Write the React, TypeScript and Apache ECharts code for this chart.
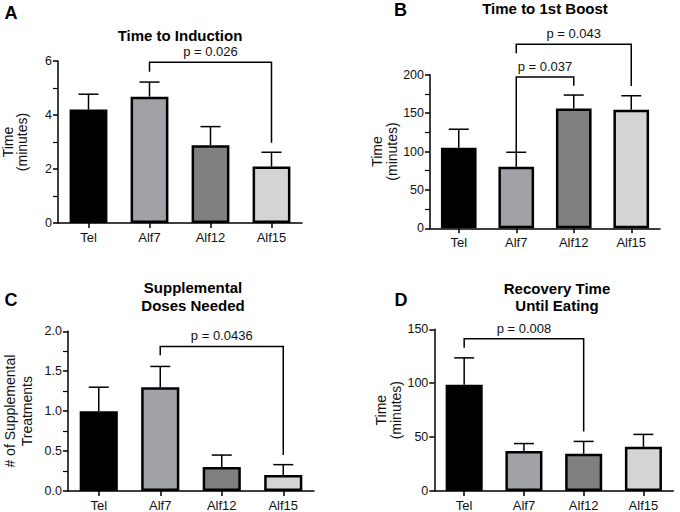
import React, { useEffect, useRef } from "react";
import * as echarts from "echarts";

const categories = ["Tel", "Alf7", "Alf12", "Alf15"];
const barColors = ["#000000", "#a1a1a8", "#808080", "#d4d4d4"];

const inductionMean = [4.2, 4.68, 2.88, 2.09];
const inductionUpper = [4.77, 5.22, 3.57, 2.62];
const boostMean = [105, 80, 156, 154.5];
const boostUpper = [129, 99, 173.5, 172.6];
const supplementalMean = [1.0, 1.3, 0.3, 0.2];
const supplementalUpper = [1.3, 1.56, 0.45, 0.33];
const recoveryMean = [98.5, 37, 34.5, 41];
const recoveryUpper = [123.5, 44, 46, 52.5];

// brackets: [fromIndex, toIndex, leftEndY, topY, rightEndY]
const inductionBrackets = [[1, 3, 5.6, 5.95, 2.97]];
const inductionP = ["p = 0.026"];
const boostBrackets = [
  [1, 2, 98.5, 197, 185.7],
  [1, 3, 227.8, 239.6, 185.3],
];
const boostP = ["p = 0.037", "p = 0.043"];
const supplementalBrackets = [[1, 3, 1.7, 1.81, 0.45]];
const supplementalP = ["p = 0.0436"];
const recoveryBrackets = [[0, 2, 133, 141.3, 55.3]];
const recoveryP = ["p = 0.008"];

const FONT = "'Liberation Sans', Arial, Helvetica, sans-serif";

export default function App() {
  const ref = useRef<HTMLDivElement>(null);

  useEffect(() => {
    if (!ref.current) return;
    const chart = echarts.init(ref.current, undefined, { renderer: "svg" });

    const panels = [
      { grid: { left: 58, top: 61, width: 244, height: 162 }, mean: inductionMean, upper: inductionUpper, max: 6, interval: 2, minor: true, dec: 0, name: "Time\n(minutes)", nameGap: 29, lh: 14, brackets: inductionBrackets, pTexts: inductionP },
      { grid: { left: 430, top: 74.7, width: 230, height: 153.6 }, mean: boostMean, upper: boostUpper, max: 200, interval: 50, minor: true, dec: 0, name: "Time\n(minutes)", nameGap: 28, lh: 15, brackets: boostBrackets, pTexts: boostP },
      { grid: { left: 68, top: 331.3, width: 246, height: 162.4 }, mean: supplementalMean, upper: supplementalUpper, max: 2, interval: 0.5, minor: true, dec: 1, name: "# of Supplemental\nTreatments", nameGap: 33, lh: 17, brackets: supplementalBrackets, pTexts: supplementalP },
      { grid: { left: 434.3, top: 329.3, width: 239, height: 162.7 }, mean: recoveryMean, upper: recoveryUpper, max: 150, interval: 50, minor: false, dec: 0, name: "Time\n(minutes)", nameGap: 31, lh: 15, brackets: recoveryBrackets, pTexts: recoveryP },
    ];

    const axisLine = { show: true, lineStyle: { color: "#000", width: 1.5 } };

    const grids = panels.map((p) => p.grid);
    const xAxes = panels.map((p, i) => ({
      type: "category",
      gridIndex: i,
      data: categories,
      boundaryGap: true,
      axisLine,
      axisTick: { show: true, alignWithLabel: true, length: 5, lineStyle: { color: "#000", width: 1.5 } },
      axisLabel: { color: "#111", fontSize: 13, fontFamily: FONT, margin: 8 },
      splitLine: { show: false },
    }));
    const yAxes = panels.map((p, i) => ({
      type: "value",
      gridIndex: i,
      min: 0,
      max: p.max,
      interval: p.interval,
      axisLine,
      axisTick: { show: true, length: 5, lineStyle: { color: "#000", width: 1.5 } },
      minorTick: { show: p.minor, splitNumber: 2, length: 5, lineStyle: { color: "#000", width: 1.2 } },
      axisLabel: {
        color: "#111",
        fontSize: 12.5,
        fontFamily: FONT,
        margin: 6,
        formatter: (v: number) => v.toFixed(p.dec),
      },
      splitLine: { show: false },
      name: p.name,
      nameLocation: "middle",
      nameRotate: 90,
      nameGap: p.nameGap,
      nameTextStyle: { color: "#111", fontSize: 14, fontFamily: FONT, lineHeight: p.lh, align: "center" },
    }));

    const series: any[] = [];
    panels.forEach((p, i) => {
      series.push({
        type: "bar",
        xAxisIndex: i,
        yAxisIndex: i,
        barWidth: "62%",
        data: p.mean.map((v, j) => ({
          value: v,
          itemStyle: { color: barColors[j], borderColor: "#000", borderWidth: 2.5 },
        })),
        z: 2,
      });
      series.push({
        type: "custom",
        xAxisIndex: i,
        yAxisIndex: i,
        clip: false,
        z: 3,
        encode: { x: 0, y: [1, 2] },
        data: p.mean.map((v, j) => [j, v, p.upper[j]]),
        renderItem: (params: any, api: any) => {
          const x = api.value(0);
          const p0 = api.coord([x, api.value(1)]);
          const p1 = api.coord([x, api.value(2)]);
          const st = { stroke: "#000", lineWidth: 1.5 };
          return {
            type: "group",
            children: [
              { type: "line", shape: { x1: p0[0], y1: p0[1], x2: p1[0], y2: p1[1] }, style: st },
              { type: "line", shape: { x1: p1[0] - 10, y1: p1[1], x2: p1[0] + 10, y2: p1[1] }, style: st },
            ],
          };
        },
      });
      series.push({
        type: "custom",
        xAxisIndex: i,
        yAxisIndex: i,
        clip: false,
        z: 4,
        encode: { x: [0, 1], y: [2, 3, 4] },
        data: p.brackets,
        renderItem: (params: any, api: any) => {
          const a = api.value(0);
          const b = api.value(1);
          const l = api.coord([a, api.value(2)]);
          const t1 = api.coord([a, api.value(3)]);
          const t2 = api.coord([b, api.value(3)]);
          const r = api.coord([b, api.value(4)]);
          return {
            type: "group",
            children: [
              {
                type: "polyline",
                shape: { points: [l, t1, t2, r] },
                style: { stroke: "#000", lineWidth: 1.5, fill: "none" },
              },
              {
                type: "text",
                x: (t1[0] + t2[0]) / 2,
                y: t1[1] - 10.5,
                style: {
                  text: p.pTexts[params.dataIndex],
                  fill: "#111",
                  fontSize: 13,
                  fontFamily: FONT,
                  align: "center",
                  verticalAlign: "middle",
                  textAlign: "center",
                  textVerticalAlign: "middle",
                },
              },
            ],
          };
        },
      });
    });

    const titleStyle = (text: string, x: number, y: number, size = 15) => ({
      type: "text",
      x,
      y,
      style: {
        text,
        fill: "#000",
        fontSize: size,
        fontWeight: "bold",
        fontFamily: FONT,
        lineHeight: 17.6,
        align: "center",
        verticalAlign: "middle",
        textAlign: "center",
        textVerticalAlign: "middle",
      },
    });

    const graphic = [
      titleStyle("Time to Induction", 180, 35.5),
      titleStyle("Time to 1st Boost", 545, 8),
      titleStyle("Supplemental\nDoses Needed", 193, 296.5),
      titleStyle("Recovery Time\nUntil Eating", 557, 297),
      titleStyle("A", 11, 13, 18),
      titleStyle("B", 400.5, 10, 18),
      titleStyle("C", 11, 300, 18),
      titleStyle("D", 401, 300, 18),
    ];

    chart.setOption({
      animation: false,
      backgroundColor: "#fff",
      grid: grids,
      xAxis: xAxes,
      yAxis: yAxes,
      series,
      graphic,
    });

    return () => chart.dispose();
  }, []);

  return (
    <div
      ref={ref}
      style={{ position: "absolute", left: 0, top: 0, width: 680, height: 512 }}
    />
  );
}
